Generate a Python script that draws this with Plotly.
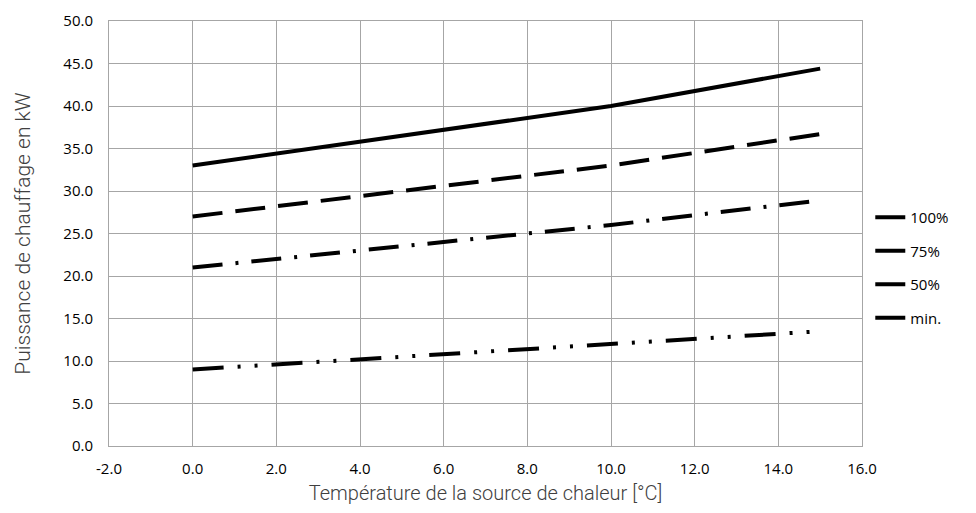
import plotly.graph_objects as go

temps = [0, 5, 10, 15]
p100 = [33.0, 36.5, 40.0, 44.4]
p75 = [27.0, 30.0, 33.0, 36.7]
p50 = [21.0, 23.5, 26.0, 28.9]
pmin = [9.0, 10.5, 12.0, 13.5]
series_names = ["100%", "75%", "50%", "min."]
x_ticks = [-2, 0, 2, 4, 6, 8, 10, 12, 14, 16]
x_labels = ["-2.0", "0.0", "2.0", "4.0", "6.0", "8.0", "10.0", "12.0", "14.0", "16.0"]
y_ticks = [0, 5, 10, 15, 20, 25, 30, 35, 40, 45, 50]
y_labels = ["0.0", "5.0", "10.0", "15.0", "20.0", "25.0", "30.0", "35.0", "40.0", "45.0", "50.0"]

dashes = ["solid", "30px,13px", "30px,13px,3px,13px", "31px,14px,3px,14px,3px,14px"]

fig = go.Figure()
for i, (name, vals) in enumerate(zip(series_names, [p100, p75, p50, pmin])):
    fig.add_trace(go.Scatter(
        x=temps, y=vals, mode="lines", name=name, legendgroup=name,
        line=dict(color="black", width=4, dash=dashes[i]),
    ))

grid = "#a6a6a6"
tickfont = dict(family="Open Sans", size=15, color="#000000")
# page body has an 8px margin, so the figure is drawn 8px smaller and shifted
fig.update_layout(
    width=968, height=505,
    margin=dict(l=101, r=114, t=13, b=67, autoexpand=False),
    plot_bgcolor="white", paper_bgcolor="white",
    showlegend=True,
    legend=dict(x=1.011, y=0.42, xanchor="left", yanchor="middle",
                font=dict(family="Open Sans", size=15, color="#000000"),
                tracegroupgap=11, bgcolor="rgba(0,0,0,0)"),
    xaxis=dict(range=[-2, 16], tickvals=x_ticks, ticktext=x_labels,
               showgrid=True, gridcolor=grid, gridwidth=1,
               showline=True, linecolor=grid, linewidth=1, mirror=True,
               zeroline=False, ticks="", tickfont=tickfont, ticklabelstandoff=9,
               automargin=False,
               title=dict(text="Température de la source de chaleur [°C]",
                          font=dict(family="Roboto", size=20, color="#404040", weight=300),
                          standoff=8)),
    yaxis=dict(range=[0, 50], tickvals=y_ticks, ticktext=y_labels,
               showgrid=True, gridcolor=grid, gridwidth=1,
               showline=True, linecolor=grid, linewidth=1, mirror=True,
               zeroline=False, ticks="", tickfont=tickfont, ticklabelstandoff=12,
               automargin=False,
               title=dict(text="Puissance de chauffage en kW",
                          font=dict(family="Roboto", size=21, color="#404040", weight=300),
                          standoff=26)),
)
fig.write_html("out.html")
